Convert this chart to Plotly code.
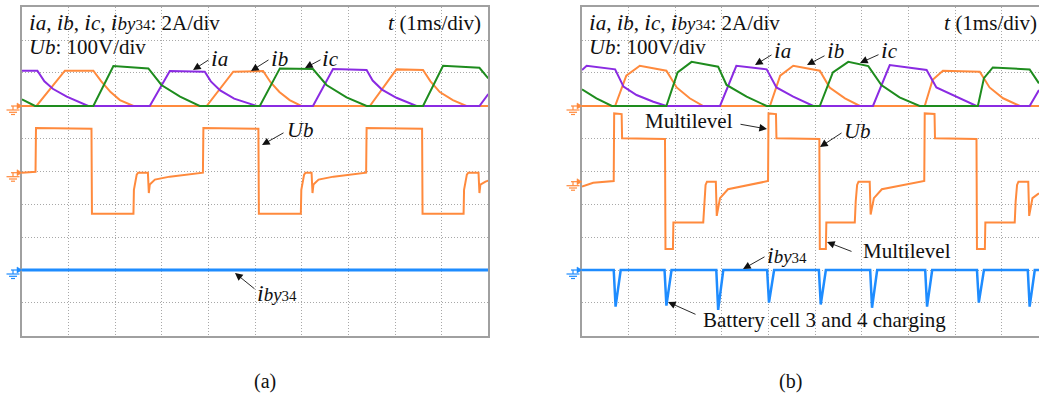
import plotly.graph_objects as go

# ---------------- data (time in ms = div, currents in A, voltage in V) ----------------
# Panel (a)
a_ia_t = [0, 0.33, 0.48, 0.66, 0.96, 1.42, 2.74, 3.17, 3.92, 4.05, 4.25, 4.55, 5.03, 6.24, 6.67, 7.39, 7.52, 7.72, 8.03, 8.46, 9.81, 10.0]
a_ia_v = [2.15, 2.15, 1.50, 1.05, 0.57, 0, 0, 2.13, 2.09, 1.50, 0.95, 0.45, 0, 0, 2.25, 2.19, 1.55, 1.00, 0.50, 0, 0, 0.73]

a_ib_t = [0, 0.31, 0.92, 1.53, 1.70, 1.90, 2.10, 2.39, 3.96, 4.53, 5.17, 5.33, 5.52, 5.74, 5.99, 7.46, 8.03, 8.60, 8.76, 8.96, 9.24, 9.53, 10.0]
a_ib_v = [0, 0, 2.15, 2.15, 1.50, 0.85, 0.36, 0, 0, 2.09, 2.13, 1.45, 0.85, 0.36, 0, 0, 2.23, 2.19, 1.50, 0.85, 0.36, 0, 0]

a_ic_t = [0, 0.28, 1.53, 1.96, 2.71, 2.99, 3.39, 3.81, 5.10, 5.53, 6.24, 6.53, 6.96, 7.39, 8.60, 9.03, 9.81, 10.0]
a_ic_v = [0.41, 0, 0, 2.43, 2.29, 1.28, 0.57, 0, 0, 2.29, 2.25, 1.28, 0.53, 0, 0, 2.45, 2.33, 1.68]

a_ub_t = [0, 0.29, 0.30, 1.49, 1.50, 2.39, 2.40, 2.46, 2.49, 2.70, 2.72, 2.74, 2.85, 3.17, 3.88, 3.89,
          5.07, 5.08, 5.98, 5.99, 6.05, 6.08, 6.21, 6.23, 6.25, 6.36, 6.68, 7.38, 7.39,
          8.58, 8.59, 9.47, 9.48, 9.54, 9.57, 9.79, 9.81, 9.83, 9.94, 10.0]
a_ub_v = [0, 3, 136, 134, -125, -125, -52, -6, 0, 0, -62, -36, -21, -12, 0, 136,
          134, -125, -125, -52, -6, 0, 0, -62, -36, -21, -12, 0, 136,
          134, -125, -125, -52, -6, 0, 0, -62, -36, -27, -24]

a_iby_t = [0, 10.0]
a_iby_v = [0, 0]

# Panel (b)
b_ia_t = [0, 0.10, 0.71, 0.89, 1.17, 1.53, 1.81, 2.96, 3.31, 3.96, 4.17, 4.53, 4.96, 6.24, 6.60, 7.39, 7.60, 8.03, 8.46, 9.60, 9.80]
b_ia_v = [2.19, 2.45, 2.23, 1.18, 0.67, 0.26, 0, 0, 2.45, 2.23, 1.13, 0.57, 0, 0, 2.49, 2.19, 1.13, 0.57, 0, 0, 0.97]

b_ib_t = [0, 0.71, 0.95, 1.24, 1.81, 2.03, 2.31, 2.60, 4.03, 4.25, 4.53, 5.10, 5.31, 5.64, 5.96, 7.35, 7.52, 7.74, 8.53, 8.74, 9.03, 9.39, 9.80]
b_ib_v = [0, 0, 1.85, 2.45, 2.15, 1.13, 0.47, 0, 0, 1.85, 2.45, 2.15, 1.13, 0.47, 0, 0, 1.60, 2.15, 2.09, 1.13, 0.47, 0, 0]

b_ic_t = [0, 0.31, 0.64, 1.81, 2.05, 2.35, 2.92, 3.10, 3.53, 3.96, 5.10, 5.38, 5.71, 6.14, 6.42, 6.81, 7.24, 8.49, 8.62, 8.81, 9.60, 9.80]
b_ic_v = [1.01, 0.47, 0, 0, 2.05, 2.69, 2.39, 1.28, 0.57, 0, 0, 2.05, 2.69, 2.43, 1.28, 0.53, 0, 0, 1.70, 2.35, 2.23, 1.38]

b_ub_t = [0, 0.24, 0.68, 0.69, 0.85, 0.86, 1.78, 1.79, 1.95, 1.96, 2.60, 2.62, 2.65, 2.68, 2.87, 2.89, 2.96, 3.13, 3.99, 4.00,
          4.16, 4.17, 5.09, 5.10, 5.23, 5.24, 5.85, 5.87, 5.90, 5.93, 6.17, 6.19, 6.26, 6.43, 7.34, 7.35, 7.56, 7.57, 8.46, 8.47,
          8.64, 8.65, 9.28, 9.30, 9.33, 9.36, 9.57, 9.59, 9.66, 9.80]
b_ub_v = [-15, -3, 2, 208, 206, 132, 130, -205, -205, -124, -124, -60, -10, 0, 0, -104, -50, -23, 2, 208,
          206, 132, 130, -205, -205, -124, -124, -60, -10, 0, 0, -100, -50, -23, 2, 208, 206, 132, 130, -205,
          -205, -124, -124, -60, -10, 0, 0, -104, -50, -35]

b_iby_t = [0, 0.68, 0.72, 0.83, 1.77, 1.81, 1.92, 2.88, 2.92, 3.03, 3.97, 4.01, 4.12, 5.08, 5.12, 5.23,
           6.18, 6.22, 6.33, 7.36, 7.40, 7.51, 8.47, 8.51, 8.62, 9.56, 9.60, 9.71, 9.80]
b_iby_v = [0, 0, -2.23, 0, 0, -2.17, 0, 0, -2.43, 0, 0, -1.99, 0, 0, -2.10, 0,
           0, -2.30, 0, 0, -2.23, 0, 0, -1.99, 0, 0, -2.23, 0, 0]

# channel scales (per division)
I_SCALE = 2.0     # A/div
U_SCALE = 100.0   # V/div

# ---------------- geometry ----------------
W, H = 1039, 397
AX_L, AX_R = 22.0, 488.3
BX_L = 582.0
Y_TOP, Y_BOT = 7.3, 335.7
DIVX = (AX_R - AX_L) / 10.0
DIVY = (Y_BOT - Y_TOP) / 10.0
B_RANGE = (W - BX_L) / DIVX

def fx(x):
    return x / W

def fy(y):
    return 1 - y / H

def ydiv(ypx):
    return (Y_BOT - ypx) / DIVY

OFF_I = ydiv(106.0)
OFF_UA = ydiv(172.7)
OFF_UB = ydiv(181.7)
OFF_BY = ydiv(270.0)

ORANGE = "#FF8A3D"
PURPLE = "#8A2BE2"
GREEN = "#1E8C1E"
BLUE = "#1E8CFF"

fig = go.Figure()

def add(t, v, scale, off, color, width, xa, ya):
    fig.add_trace(go.Scatter(
        x=t, y=[off + val / scale for val in v], mode="lines",
        line=dict(color=color, width=width), xaxis=xa, yaxis=ya,
        showlegend=False, hoverinfo="skip"))

# panel (a)
add(a_iby_t, a_iby_v, I_SCALE, OFF_BY, BLUE, 3, "x", "y")
add(a_ub_t, a_ub_v, U_SCALE, OFF_UA, ORANGE, 2, "x", "y")
add(a_ib_t, a_ib_v, I_SCALE, OFF_I, ORANGE, 2, "x", "y")
add(a_ia_t, a_ia_v, I_SCALE, OFF_I, PURPLE, 2, "x", "y")
add(a_ic_t, a_ic_v, I_SCALE, OFF_I, GREEN, 2, "x", "y")
# panel (b)
add(b_iby_t, b_iby_v, I_SCALE, OFF_BY, BLUE, 2.5, "x2", "y2")
add(b_ub_t, b_ub_v, U_SCALE, OFF_UB, ORANGE, 2, "x2", "y2")
add(b_ib_t, b_ib_v, I_SCALE, OFF_I, ORANGE, 2, "x2", "y2")
add(b_ia_t, b_ia_v, I_SCALE, OFF_I, PURPLE, 2, "x2", "y2")
add(b_ic_t, b_ic_v, I_SCALE, OFF_I, GREEN, 2, "x2", "y2")

GRID = "#a8a8a8"
BORDER = "#a0a0a0"
ax_common = dict(showticklabels=False, ticks="", zeroline=False, showgrid=True,
                 gridcolor=GRID, griddash="1px,2px", gridwidth=1, dtick=1,
                 showline=True, linecolor=BORDER, linewidth=1.5)
ydom = [fy(Y_BOT), fy(Y_TOP)]
fig.update_layout(
    xaxis=dict(domain=[fx(AX_L), fx(AX_R)], range=[0, 10], mirror=True, **ax_common),
    yaxis=dict(domain=ydom, range=[0, 10], mirror=True, **ax_common),
    xaxis2=dict(domain=[fx(BX_L), 1.0], range=[0, B_RANGE], mirror=True, anchor="y2", **ax_common),
    yaxis2=dict(domain=ydom, range=[0, 10], mirror=False, anchor="x2", **ax_common),
)

# ---------------- ground markers ----------------
shapes = []
def ground(left, y, color):
    kw = dict(type="line", xref="paper", yref="paper", line=dict(color=color, width=1.2))
    shapes.append(dict(x0=fx(left - 11), x1=fx(left - 4), y0=fy(y), y1=fy(y), **kw))
    shapes.append(dict(type="path", xref="paper", yref="paper",
                       path=f"M {fx(left-5)},{fy(y-3)} L {fx(left)},{fy(y)} L {fx(left-5)},{fy(y+3)} Z",
                       fillcolor=color, line=dict(color=color, width=0.5)))
    shapes.append(dict(x0=fx(left - 9), x1=fx(left - 9), y0=fy(y), y1=fy(y + 4), **kw))
    shapes.append(dict(x0=fx(left - 15.5), x1=fx(left - 2.5), y0=fy(y + 4), y1=fy(y + 4), **kw))
    shapes.append(dict(x0=fx(left - 13), x1=fx(left - 5), y0=fy(y + 6.3), y1=fy(y + 6.3), **kw))
    shapes.append(dict(x0=fx(left - 11), x1=fx(left - 7), y0=fy(y + 8.5), y1=fy(y + 8.5), **kw))

ground(AX_L, 106.0, ORANGE)
ground(AX_L, 172.7, ORANGE)
ground(AX_L, 270.0, BLUE)
ground(BX_L, 106.0, ORANGE)
ground(BX_L, 181.7, ORANGE)
ground(BX_L, 270.0, BLUE)
fig.update_layout(shapes=shapes)

# ---------------- texts ----------------
FONT = "Liberation Serif"
TXT = "#111111"
FS = 21
BIG_I = "<span style='font-size:24px'><i>i</i></span>"
BIG_U = "<span style='font-size:22px'><i>U</i></span>"
SUB_BY = "<span style='font-size:19px'><i>by</i></span><span style='font-size:15px'>34</span>"
HEAD1 = (BIG_I + "<i>a</i>, " + BIG_I + "<i>b</i>, " + BIG_I + "<i>c</i>, " + BIG_I + SUB_BY +
         ": 2A/div")
HEAD2 = BIG_U + "<i>b</i>: 100V/div"
HEAD3 = "<span style='font-size:22px'><i>t</i></span> (1ms/div)"
L_IA = BIG_I + "<i>a</i>"
L_IB = BIG_I + "<i>b</i>"
L_IC = BIG_I + "<i>c</i>"
L_UB = BIG_U + "<i>b</i>"
L_IBY = BIG_I + SUB_BY
L_ML = "Multilevel"
L_BAT = "Battery cell 3 and 4 charging"

anns = []
def text(x, base, s, anchor="left", size=FS):
    anns.append(dict(x=fx(x), y=fy(base - 0.34 * size), xref="paper", yref="paper",
                     text=s, showarrow=False, xanchor=anchor, yanchor="middle",
                     font=dict(family=FONT, size=size, color=TXT), borderpad=0))

def arrow(head, tail):
    anns.append(dict(x=fx(head[0]), y=fy(head[1]), xref="paper", yref="paper",
                     ax=tail[0] - head[0], ay=tail[1] - head[1], text="",
                     showarrow=True, arrowhead=2, arrowsize=1.7, arrowwidth=0.9,
                     arrowcolor="#111111", standoff=0, startstandoff=0))

# panel (a)
text(28, 29.3, HEAD1)
text(28, 54, HEAD2)
text(482, 29.3, HEAD3, anchor="right")
text(210, 65, L_IA); arrow((193, 70), (210, 59))
text(270, 65, L_IB); arrow((251, 71), (270, 59))
text(321, 65, L_IC); arrow((305, 68), (322, 59))
text(286, 137, L_UB); arrow((262, 145), (285, 132))
text(256, 300, L_IBY); arrow((235, 273), (256, 290))
text(265, 388, "(a)", anchor="center", size=20)
# panel (b)
text(588, 29.3, HEAD1)
text(588, 54, HEAD2)
text(1038, 29.3, HEAD3, anchor="right")
text(773, 57, L_IA); arrow((755, 65), (773, 54))
text(826, 57, L_IB); arrow((807, 65), (826, 55))
text(880, 57, L_IC); arrow((860, 63), (880, 54))
text(644, 128, L_ML); arrow((767, 129), (739, 124))
text(843, 138, L_UB); arrow((820, 147), (843, 132))
text(862, 258, L_ML); arrow((827, 242), (853, 252))
text(766, 262, L_IBY); arrow((743, 269), (766, 256))
text(702, 327, L_BAT); arrow((668, 302), (697, 315))
text(790, 388, "(b)", anchor="center", size=20)

fig.update_layout(annotations=anns, width=W, height=H,
                  margin=dict(l=0, r=0, t=0, b=0),
                  paper_bgcolor="white", plot_bgcolor="white",
                  showlegend=False)

fig.write_html("out.html", config={"displayModeBar": False},
               post_script="document.body.style.margin='0px';document.body.style.overflow='hidden';")
